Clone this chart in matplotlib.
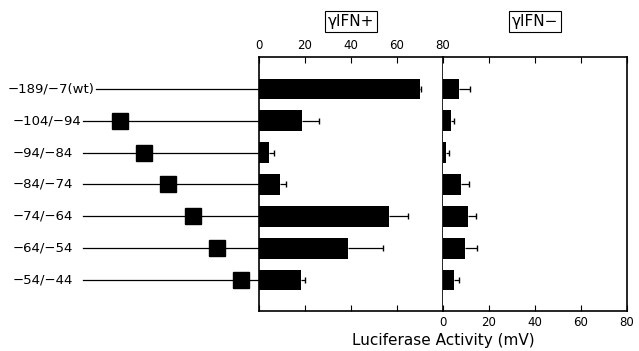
import numpy as np
import matplotlib
matplotlib.use("Agg")
import matplotlib.pyplot as plt

constructs = ["\u2212189/\u22127(wt)", "\u2212104/\u221294", "\u221294/\u221284", "\u221284/\u221274",
              "\u221274/\u221264", "\u221264/\u221254", "\u221254/\u221244"]
# centre of each substituted block (bp); wild type has none
block_center = [None, -99, -89, -79, -69, -59, -49]

ifn_plus = [70, 18.7, 4.3, 9, 56.5, 38.7, 18.3]
ifn_plus_err = [0.6, 7.5, 2.2, 2.7, 8.3, 15.3, 1.7]
ifn_minus = [7, 3.5, 1.5, 7.8, 10.9, 9.6, 4.8]
ifn_minus_err = [4.7, 1.2, 1.0, 3.5, 3.4, 5.2, 2.2]

ticks = [0, 20, 40, 60, 80]

fig = plt.figure(figsize=(6.39, 3.51), dpi=100)
plt.rcParams['font.family'] = ['DejaVu Sans']

bottom, height = 1 - 311 / 351, (311 - 57) / 351
ax_d = fig.add_axes([0, bottom, 259 / 639, height])
ax_p = fig.add_axes([259 / 639, bottom, 184 / 639, height])
ax_m = fig.add_axes([443 / 639, bottom, 184 / 639, height])

y = np.arange(len(constructs))
ylim = (6.97, -1.0)

# construct diagram
ax_d.set_xlim(-148.6, -41.6)
ax_d.set_ylim(*ylim)
ax_d.axis("off")
for i, (lab, c) in enumerate(zip(constructs, block_center)):
    ax_d.text(0.03 if i == 0 else 0.05, i, lab, transform=ax_d.get_yaxis_transform(),
              ha="left", va="center", fontsize=9.5)
    start = 0.37 if i == 0 else 0.32
    ax_d.plot([start, 1], [i, i], color="black", lw=0.9,
              transform=ax_d.get_yaxis_transform())
    if c is not None:
        ax_d.plot(c, i, marker="s", ms=12, color="black", mec="black")

for ax, vals, errs, title in [(ax_p, ifn_plus, ifn_plus_err, "\u03b3IFN+"),
                              (ax_m, ifn_minus, ifn_minus_err, "\u03b3IFN\u2212")]:
    vals = np.array(vals)
    errs = np.array(errs)
    ax.barh(y, vals, height=0.65, color="black")
    ax.hlines(y, vals, vals + errs, color="black", lw=0.9)
    ax.plot(vals + errs, y, ls="none", marker="|", ms=5, mew=1.0, color="black")
    ax.set_xlim(0, 80)
    ax.set_ylim(*ylim)
    ax.set_yticks([])
    ax.set_xticks(ticks)
    ax.tick_params(axis="x", direction="in", top=True, bottom=True, length=4, labelsize=8.5)
    for s in ax.spines.values():
        s.set_linewidth(1.2)
    ax.text(0.5, 1.14, title, transform=ax.transAxes, ha="center", va="center", fontsize=11,
            bbox=dict(boxstyle="square,pad=0.2", fc="white", ec="black", lw=0.8))

ax_p.tick_params(axis="x", labeltop=True, labelbottom=False)
ax_m.tick_params(axis="x", labeltop=False, labelbottom=True)
ax_m.spines["left"].set_visible(False)

fig.text(443 / 639, 1 - 340 / 351, "Luciferase Activity (mV)", ha="center", va="center", fontsize=11)

fig.savefig("out.png", dpi=100)
